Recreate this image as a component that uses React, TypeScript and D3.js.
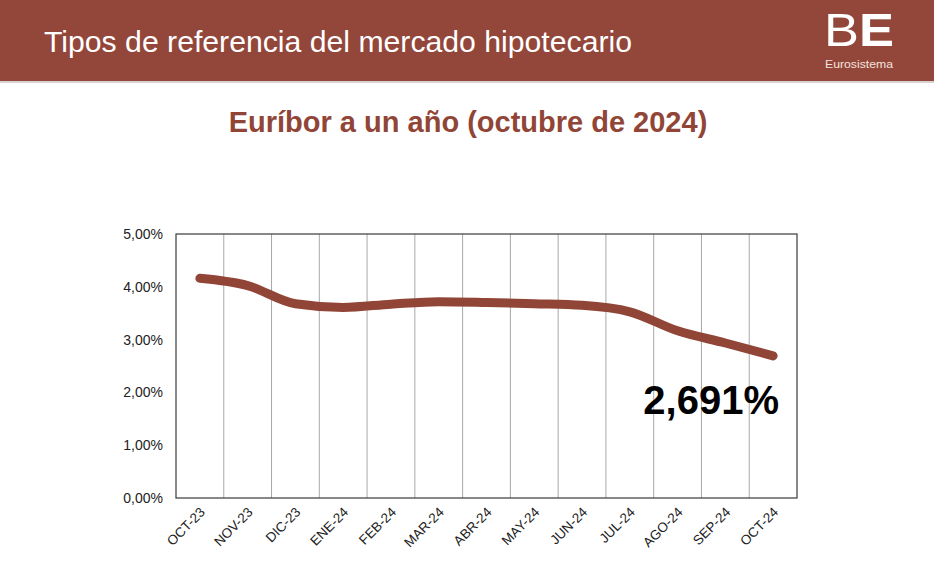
import React from "react";
import * as d3 from "d3";

const categories = ["OCT-23","NOV-23","DIC-23","ENE-24","FEB-24","MAR-24","ABR-24","MAY-24","JUN-24","JUL-24","AGO-24","SEP-24","OCT-24"];
const values = [4.160, 4.022, 3.679, 3.609, 3.671, 3.718, 3.703, 3.680, 3.650, 3.526, 3.166, 2.936, 2.691];
const yTicks = [0, 1, 2, 3, 4, 5];
const lastLabel = "2,691%";

const W = 934, H = 587;
const left = 176, right = 797, top = 234, bottom = 498;
const brown = "#914537";
const font = "'Liberation Sans', Arial, Helvetica, sans-serif";

export default function App() {
  const x = d3.scaleBand<string>().domain(categories).range([left, right]);
  const y = d3.scaleLinear().domain([0, 5]).range([bottom, top]);
  const line = d3.line<number>()
    .x((_, i) => (x(categories[i]) as number) + x.bandwidth() / 2)
    .y((d) => y(d))
    .curve(d3.curveMonotoneX);
  const fmt = (v: number) => v.toFixed(2).replace(".", ",") + "%";
  return (
    <svg width={W} height={H} style={{ position: "absolute", left: 0, top: 0, background: "#fff" }}>
      <rect x={0} y={0} width={W} height={81} fill="#93463a" />
      <rect x={0} y={81} width={W} height={2} fill="#d9d2d0" />
      <text x={44} y={52} fill="#fff" fontFamily={font} fontSize={30} textLength={588} lengthAdjust="spacingAndGlyphs">Tipos de referencia del mercado hipotecario</text>
      <text x={824} y={46} fill="#fff" fontFamily={font} fontSize={46} textLength={70} lengthAdjust="spacingAndGlyphs">
        <tspan>B</tspan><tspan fontWeight={700}>E</tspan>
      </text>
      <text x={825} y={68} fill="#f3e3df" fontFamily={font} fontSize={10} textLength={68} lengthAdjust="spacingAndGlyphs">Eurosistema</text>
      <text x={468} y={132} textAnchor="middle" fill={brown} fontFamily={font} fontSize={29} fontWeight={700}>Euríbor a un año (octubre de 2024)</text>

      {categories.slice(1).map((c) => (
        <line key={c} x1={x(c)} x2={x(c)} y1={top} y2={bottom} stroke="#a8a8a8" strokeWidth={1} />
      ))}
      <rect x={left} y={top} width={right - left} height={bottom - top} fill="none" stroke="#3a3a3a" strokeWidth={1.2} />

      {yTicks.map((t) => (
        <text key={t} x={163} y={y(t) + 5} textAnchor="end" fontFamily={font} fontSize={14} fill="#222">{fmt(t)}</text>
      ))}
      {categories.map((c) => {
        const cx = (x(c) as number) + x.bandwidth() / 2 + 6;
        const cy = bottom + 15;
        return (
          <text key={c} x={cx} y={cy} textAnchor="end" transform={`rotate(-45 ${cx} ${cy})`} fontFamily={font} fontSize={13.5} fill="#222">{c}</text>
        );
      })}

      <path d={line(values) || ""} fill="none" stroke={brown} strokeWidth={9} strokeLinecap="round" strokeLinejoin="round" />
      <text x={779} y={414} textAnchor="end" fontFamily={font} fontSize={40} fontWeight={700} fill="#000">{lastLabel}</text>
    </svg>
  );
}
